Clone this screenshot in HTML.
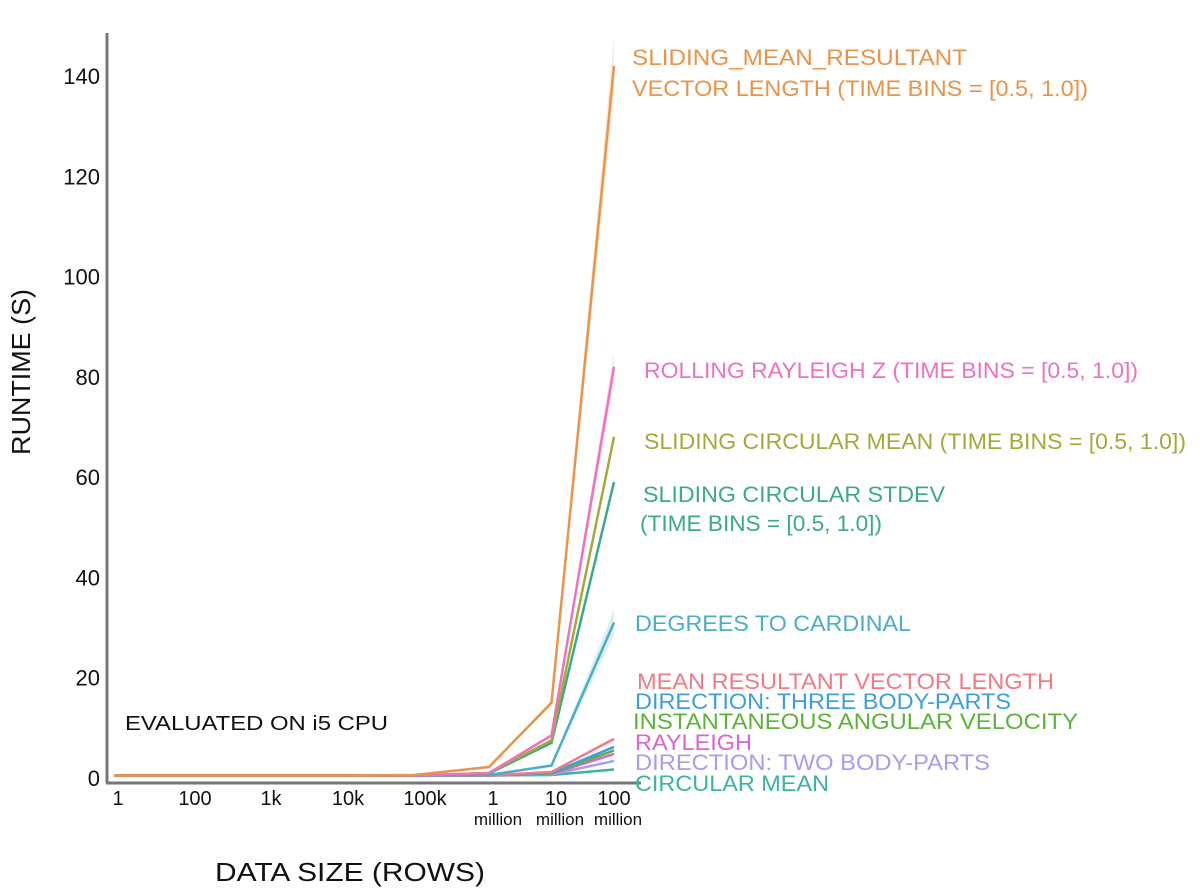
<!DOCTYPE html>
<html><head><meta charset="utf-8"><style>
html,body{margin:0;padding:0;background:#fff;}
svg{display:block;font-family:"Liberation Sans","DejaVu Sans",sans-serif;}
</style></head><body>
<svg id="chart" width="1200" height="895" viewBox="0 0 1200 895">
<g id="bands"></g>
<g id="lines"></g>
<line x1="107" y1="33" x2="107" y2="783" stroke="#777" stroke-width="3"/>
<line x1="106" y1="783" x2="641" y2="783" stroke="#777" stroke-width="3"/>
<g id="yticks"></g>
<g id="xticks"></g>
<g id="labels"></g>
<text x="30" y="372" font-size="26" fill="#111" text-anchor="middle" transform="rotate(-90 30 372)" textLength="166" lengthAdjust="spacingAndGlyphs">RUNTIME (S)</text>
<text x="215" y="881" font-size="26" fill="#111" textLength="270" lengthAdjust="spacingAndGlyphs">DATA SIZE (ROWS)</text>
<text x="125" y="730" font-size="20" fill="#111" textLength="263" lengthAdjust="spacingAndGlyphs">EVALUATED ON i5 CPU</text>
</svg>
<script>
const categories = ["1","100","1k","10k","100k","1 million","10 million","100 million"];
const yTicks = [0,20,40,60,80,100,120,140];
const sMRVLSliding = [0.5,0.5,0.5,0.5,0.6,2.2,15,142];
const sRollingRayleigh = [0.5,0.5,0.5,0.5,0.5,1.0,8.5,82];
const sSlidingMean = [0.5,0.5,0.5,0.5,0.5,1.0,7.5,68];
const sSlidingStdev = [0.5,0.5,0.5,0.5,0.5,0.9,7.0,59];
const sCardinal = [0.5,0.5,0.5,0.5,0.5,0.6,2.5,31];
const sMRVL = [0.5,0.5,0.5,0.5,0.5,0.5,1.2,7.8];
const sDirThree = [0.5,0.5,0.5,0.5,0.5,0.5,1.0,6.2];
const sAngVel = [0.5,0.5,0.5,0.5,0.5,0.5,0.9,5.5];
const sRayleigh = [0.5,0.5,0.5,0.5,0.5,0.5,0.8,4.8];
const sDirTwo = [0.5,0.5,0.5,0.5,0.5,0.5,0.7,3.4];
const sCircMean = [0.5,0.5,0.5,0.5,0.5,0.5,0.6,1.7];

const NS="http://www.w3.org/2000/svg";
function xScale(i){ return i<=5 ? 114+i*75 : 489+(i-5)*62.5; }
function yScale(v){ return 778 - v*5.014; }
function mk(tag,attrs,parent){const e=document.createElementNS(NS,tag);for(const k in attrs)e.setAttribute(k,attrs[k]);parent.appendChild(e);return e;}

const series=[
 {v:sMRVLSliding,c:"#E8944A",n:"series-sliding-mrvl",band:6},
 {v:sRollingRayleigh,c:"#EE72BC",n:"series-rolling-rayleigh",band:3},
 {v:sSlidingMean,c:"#A5A83A",n:"series-sliding-circular-mean",band:1},
 {v:sSlidingStdev,c:"#3BAA8A",n:"series-sliding-circular-stdev",band:1},
 {v:sCardinal,c:"#4AAFC4",n:"series-degrees-to-cardinal",band:2.5},
 {v:sMRVL,c:"#F07A85",n:"series-mrvl",band:0},
 {v:sDirThree,c:"#3D9FE0",n:"series-direction-three",band:0},
 {v:sAngVel,c:"#5DB33A",n:"series-angular-velocity",band:0},
 {v:sRayleigh,c:"#D966D0",n:"series-rayleigh",band:0},
 {v:sDirTwo,c:"#A99CF0",n:"series-direction-two",band:0},
 {v:sCircMean,c:"#3BB5A0",n:"series-circular-mean",band:0}
];
const bandsG=document.getElementById('bands'), linesG=document.getElementById('lines');
series.slice().reverse().forEach(s=>{
  if(s.band>0){
    const up=s.v.map((v,i)=>xScale(i)+","+yScale(v+s.band*(i>=6?(i==7?1:0.1):0)));
    const dn=s.v.map((v,i)=>xScale(i)+","+yScale(Math.max(0,v-s.band*(i>=6?(i==7?1:0.1):0)))).reverse();
    const b=mk('polygon',{points:up.concat(dn).join(' '),fill:s.c,opacity:0.2},bandsG);
    
    
  }
  const p=mk('polyline',{points:s.v.map((v,i)=>xScale(i)+","+yScale(v)).join(' '),fill:"none",stroke:s.c,"stroke-width":2.5,"stroke-linejoin":"round"},linesG);
  
  
});
const yt=document.getElementById('yticks');
yTicks.forEach(t=>{
  const e=mk('text',{x:100,y:yScale(t)+8,"font-size":22,fill:"#111","text-anchor":"end"},yt);
  e.textContent=t;
  
  
});
const xt=document.getElementById('xticks');
const tickX=[118,195,271,348,425,493,556,614];
categories.forEach((c,i)=>{
  const parts=c.split(' ');
  const e=mk('text',{x:tickX[i],y:805,"font-size":20,fill:"#111","text-anchor":"middle"},xt);
  e.textContent=parts[0];
  
  
  if(parts[1]){
    const m=mk('text',{x:[0,0,0,0,0,498,560,618][i],y:825,"font-size":17,fill:"#111","text-anchor":"middle"},xt);
    m.textContent=parts[1];
    
    
  }
});
const lbl=document.getElementById('labels');
const labels=[
 ["SLIDING_MEAN_RESULTANT",632,65,335,"#E8944A"],
 ["VECTOR LENGTH (TIME BINS = [0.5, 1.0])",632,96,456,"#E8944A"],
 ["ROLLING RAYLEIGH Z (TIME BINS = [0.5, 1.0])",644,378,494,"#EE72BC"],
 ["SLIDING CIRCULAR MEAN (TIME BINS = [0.5, 1.0])",644,449,542,"#A5A83A"],
 ["SLIDING CIRCULAR STDEV",643,502,302,"#3BAA8A"],
 ["(TIME BINS = [0.5, 1.0])",640,531,242,"#3BAA8A"],
 ["DEGREES TO CARDINAL",635,631,276,"#4AAFC4"],
 ["MEAN RESULTANT VECTOR LENGTH",637,689,417,"#F07A85"],
 ["DIRECTION: THREE BODY-PARTS",635,709,376,"#3D9FE0"],
 ["INSTANTANEOUS ANGULAR VELOCITY",633,729,445,"#5DB33A"],
 ["RAYLEIGH",635,750,117,"#D966D0"],
 ["DIRECTION: TWO BODY-PARTS",635,770,355,"#A99CF0"],
 ["CIRCULAR MEAN",635,791,194,"#3BB5A0"]
];
labels.forEach((l,i)=>{
  const e=mk('text',{x:l[1],y:l[2],"font-size":22,fill:l[4],textLength:l[3],lengthAdjust:"spacingAndGlyphs"},lbl);
  e.textContent=l[0];
  
  
});
</script>
</body></html>
